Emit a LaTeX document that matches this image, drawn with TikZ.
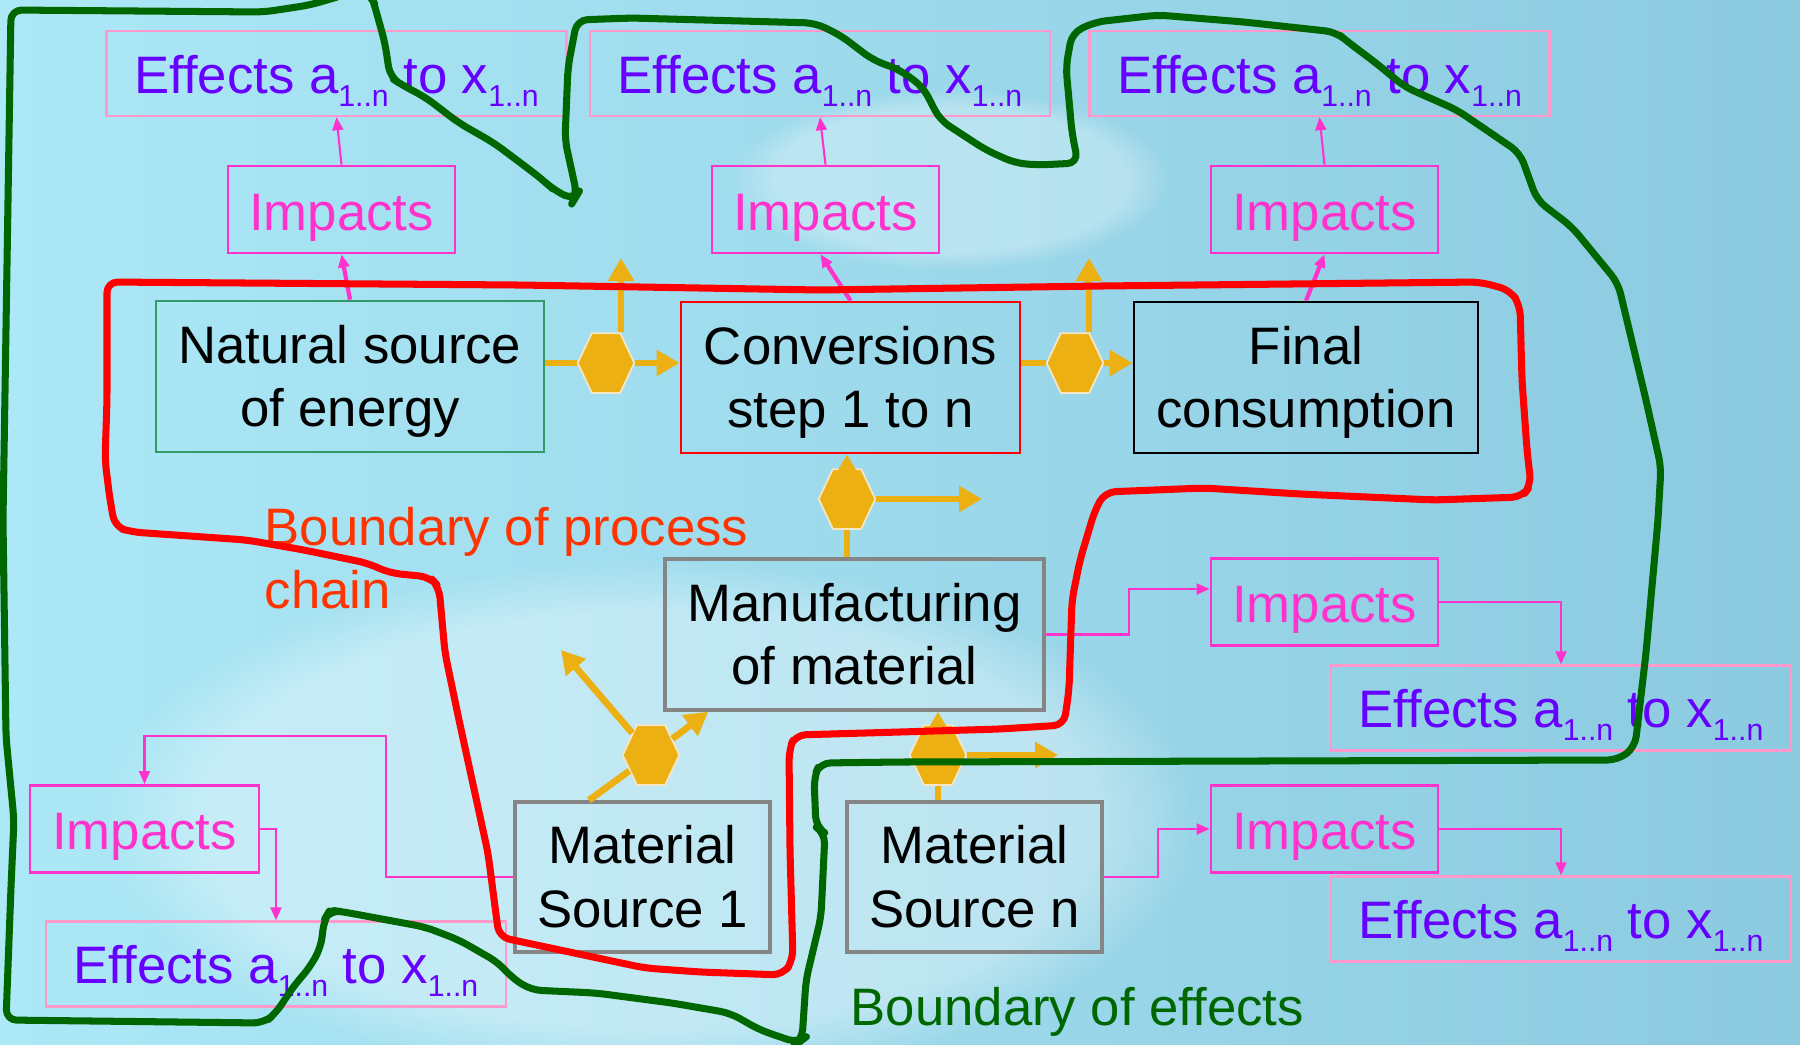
\documentclass[tikz,border=0pt]{standalone}
\usepackage{fontspec}
\setmainfont{Liberation Sans}
\usetikzlibrary{arrows.meta,shapes.geometric,fadings}

\definecolor{procred}{HTML}{FF0000}
\definecolor{effgreen}{HTML}{006600}
\definecolor{hexorange}{HTML}{ECB012}
\definecolor{hexrim}{HTML}{F6E6C6}
\definecolor{imppink}{HTML}{FF33CC}
\definecolor{effpink}{HTML}{FF99CC}
\definecolor{effviolet}{HTML}{6600FF}
\definecolor{natgreen}{HTML}{339966}
\definecolor{chainred}{HTML}{FF3300}
\definecolor{matgray}{HTML}{858585}
\definecolor{bgleft}{HTML}{ACE8F6}
\definecolor{bgright}{HTML}{8CCAE0}

\newcommand{\subn}{\raisebox{-0.25em}{\fontsize{8.6pt}{9pt}\selectfont 1..n}}
\newcommand{\Effects}{Effects a\subn{} to x\subn}
\newcommand{\bigfont}{\fontsize{15pt}{18pt}\selectfont}

\begin{document}
\begin{tikzpicture}[
    effbox/.style={rectangle, draw=effpink, line width=0.7pt, text=effviolet, minimum width=4.6cm, minimum height=0.85cm, inner sep=0pt, text height=0.39cm, text depth=0cm, font=\bigfont},
    impbox/.style={rectangle, draw=imppink, line width=0.8pt, text=imppink, minimum width=2.27cm, minimum height=0.87cm, inner sep=0pt, text height=0.41cm, text depth=0cm, font=\bigfont},
    procbox/.style={rectangle, draw, line width=0.8pt, align=center, minimum height=1.51cm, inner sep=0pt, text height=1.2cm, text depth=0.2cm, font=\bigfont},
    matbox/.style={procbox, draw=matgray, line width=1pt, minimum width=2.55cm, minimum height=1.5cm},
    hexa/.style={regular polygon, regular polygon sides=6, minimum size=0.69cm, inner sep=0pt, fill=hexorange, draw=hexrim, line width=0.5pt, xscale=0.82},
    orline/.style={draw=hexorange, line width=1.9pt},
    orarrow/.style={orline, -{Triangle[length=2.3mm,width=2.5mm]}},
    pinkarrow/.style={draw=imppink, line width=0.6pt, -{Triangle[length=1.3mm,width=1.1mm]}},
    pinkthick/.style={pinkarrow, line width=1.2pt},
    boundary/.style={line width=2pt, line join=round, line cap=round, rounded corners=3pt}
  ]

    \useasboundingbox (0,0) rectangle (18,-10.44);
    % background
    \shade[left color=bgleft, right color=bgright] (0,0) rectangle (18,-10.44);
    \fill[white, opacity=0.35, path fading=circle with fuzzy edge 20 percent] (6.5,-8.2) ellipse (5.5 and 2.6);
    \fill[white, opacity=0.3, path fading=circle with fuzzy edge 20 percent] (9.5,-1.8) ellipse (2.2 and 0.9);

    % effects, top row
    \node[effbox] (eff1) at (3.365,-0.735) {\Effects};
    \node[effbox] (eff2) at (8.20,-0.735) {\Effects};
    \node[effbox] (eff3) at (13.195,-0.735) {\Effects};

    \node[impbox] (imp1) at (3.415,-2.095) {Impacts};
    \node[impbox] (imp2) at (8.255,-2.095) {Impacts};
    \node[impbox] (imp3) at (13.245,-2.095) {Impacts};

    % process chain
    \node[procbox, draw=natgreen, minimum width=3.88cm] (nat) at (3.50,-3.765) {Natural source\\of energy};
    \node[procbox, draw=procred, minimum width=3.39cm] (conv) at (8.505,-3.775) {Conversions\\step 1 to n};
    \node[procbox, draw=black, minimum width=3.44cm] (fin) at (13.06,-3.775) {Final\\consumption};
    \node[matbox, minimum width=3.79cm, minimum height=1.51cm] (manu) at (8.545,-6.345) {Manufacturing\\of material};
    \node[matbox] (src1) at (6.425,-8.77) {Material\\Source 1};
    \node[matbox] (srcn) at (9.745,-8.77) {Material\\Source n};

    % effects of material
    \node[impbox] (imp4) at (13.245,-6.02) {Impacts};
    \node[effbox] (eff4) at (15.61,-7.08) {\Effects};
    \node[impbox] (imp5) at (13.245,-8.29) {Impacts};
    \node[effbox] (eff5) at (15.61,-9.19) {\Effects};
    \node[impbox, minimum width=2.29cm] (imp6) at (1.445,-8.29) {Impacts};
    \node[effbox] (eff6) at (2.76,-9.64) {\Effects};

    % hexagons
    \node[hexa] (hx1) at (6.06,-3.63) {};
    \node[hexa] (hx2) at (10.75,-3.63) {};
    \node[hexa] (hx3) at (8.47,-4.99) {};
    \node[hexa] (hx4) at (6.51,-7.55) {};
    \node[hexa] (hx5) at (9.38,-7.55) {};

    \coordinate (out1) at (6.21,-2.58);
    \coordinate (out2) at (10.89,-2.58);
    \coordinate (out3) at (9.82,-4.99);
    \coordinate (out4) at (5.61,-6.50);
    \coordinate (out5) at (10.58,-7.55);

    % orange flows
    \draw[orline] (nat.east |- hx1) -- (hx1);
    \draw[orarrow] (hx1) -- (conv.west |- hx1);
    \draw[orarrow] (hx1.north -| out1) -- (out1);
    \draw[orline] (conv.east |- hx2) -- (hx2);
    \draw[orarrow] (hx2) -- (fin.west |- hx2);
    \draw[orarrow] (hx2.north -| out2) -- (out2);
    \draw[orline] (hx3) -- (hx3 |- manu.north);
    \draw[orarrow] (hx3.center) -- (hx3 |- conv.south);
    \draw[orarrow] (hx3) -- (out3);
    \draw[orline] ([xshift=-0.535cm]src1.north) -- (hx4);
    \draw[orarrow] (hx4) -- ([xshift=0.45cm]manu.south west);
    \draw[orarrow] (hx4) -- (out4);
    \draw[orline] (srcn.north -| hx5) -- (hx5);
    \draw[orarrow] (hx5.center) -- (hx5 |- manu.south);
    \draw[orarrow] (hx5) -- (out5);

    % impacts and effects
    \draw[pinkthick] (nat.north) -- (imp1.south);
    \draw[pinkarrow] (imp1.north) -- (eff1.south);
    \draw[pinkthick] (conv.north) -- ([xshift=-0.05cm]imp2.south);
    \draw[pinkarrow] (imp2.north) -- (eff2.south);
    \draw[pinkthick] (fin.north) -- (imp3.south);
    \draw[pinkarrow] (imp3.north) -- (eff3.south);
    \draw[pinkarrow] (manu.east) -- ++(0.83,0) |- ([yshift=0.13cm]imp4.west);
    \draw[pinkarrow] (imp4.east) -| (eff4.north);
    \draw[pinkarrow] (srcn.east) -- ++(0.54,0) |- (imp5.west);
    \draw[pinkarrow] (imp5.east) -| (eff5.north);
    \draw[pinkarrow] (src1.west) -- ++(-1.27,0) |- ([yshift=0.48cm]imp6.north) -- (imp6.north);
    \draw[pinkarrow] (imp6.east) -| (eff6.north);

    % labels
    \node[anchor=north west, align=left, inner sep=0pt, text=chainred, font=\bigfont] (chainlbl) at (2.64,-5.065) {Boundary of process\\chain};
    \node[anchor=base west, inner sep=0pt, text=effgreen, font=\bigfont] (efflbl) at (8.50,-10.25) {Boundary of effects};

    % boundaries
    \begin{scope}
      \clip (0,0) rectangle (18,-10.44);
      \draw[boundary, procred] (1.07,-2.82) -- (5.20,-2.85) -- (8.20,-2.90) -- (11.00,-2.86) -- (14.80,-2.82) -- (15.10,-2.90) -- (15.20,-3.05) -- (15.22,-3.80) -- (15.27,-4.50) -- (15.31,-4.85) -- (15.22,-4.97) -- (14.34,-5.00) -- (13.00,-4.94) -- (12.04,-4.88) -- (11.05,-4.92) -- (10.95,-5.10) -- (10.80,-5.60) -- (10.72,-6.00) -- (10.69,-6.90) -- (10.64,-7.25) -- (10.00,-7.29) -- (9.00,-7.32) -- (7.95,-7.35) -- (7.89,-7.50) -- (7.90,-8.50) -- (7.93,-9.60) -- (7.83,-9.75) -- (7.00,-9.72) -- (6.45,-9.68) -- (5.60,-9.50) -- (4.99,-9.37) -- (4.88,-8.53) -- (4.59,-7.20) -- (4.45,-6.53) -- (4.39,-5.87) -- (4.30,-5.77) -- (3.90,-5.73) -- (3.67,-5.63) -- (3.04,-5.50) -- (2.47,-5.40) -- (1.32,-5.32) -- (1.15,-5.27) -- (1.10,-5.00) -- (1.05,-4.60) -- (1.07,-4.00) -- cycle;
      \draw[boundary, effgreen] (0.11,-0.10) -- (2.64,-0.12) -- (3.10,-0.05) -- (3.44,0.05) -- (3.58,0.12) -- (3.71,0.05) -- (3.73,0) -- (3.85,-0.43) -- (3.90,-0.77) -- (4.02,-0.85) -- (4.25,-0.97) -- (4.59,-1.23) -- (4.94,-1.43) -- (5.34,-1.73) -- (5.45,-1.82) -- (5.54,-1.90) -- (5.74,-2.00) -- (5.77,-1.95) -- (5.65,-1.40) -- (5.68,-0.67) -- (5.77,-0.20) -- (6.31,-0.18) -- (8.15,-0.23) -- (8.40,-0.35) -- (8.73,-0.60) -- (9.00,-0.70) -- (9.23,-0.87) -- (9.40,-1.20) -- (9.86,-1.50) -- (10.15,-1.63) -- (10.38,-1.65) -- (10.78,-1.63) -- (10.72,-1.33) -- (10.66,-0.67) -- (10.72,-0.33) -- (10.95,-0.22) -- (11.58,-0.15) -- (12.44,-0.22) -- (13.36,-0.32) -- (13.48,-0.42) -- (13.76,-0.63) -- (14.05,-0.87) -- (14.57,-1.10) -- (15.20,-1.53) -- (15.37,-2.00) -- (15.72,-2.27) -- (16.18,-2.83) -- (16.46,-4.00) -- (16.61,-4.67) -- (16.58,-5.20) -- (16.46,-6.53) -- (16.35,-7.47) -- (16.18,-7.60) -- (9.00,-7.62) -- (8.20,-7.63) -- (8.14,-7.77) -- (8.16,-8.27) -- (8.25,-8.33) -- (8.21,-9.17) -- (8.06,-9.80) -- (8.02,-10.40) -- (7.98,-10.43) -- (7.60,-10.30) -- (7.30,-10.13) -- (6.72,-10.03) -- (5.96,-9.93) -- (5.31,-9.90) -- (5.11,-9.77) -- (4.99,-9.63) -- (4.59,-9.40) -- (4.25,-9.27) -- (3.44,-9.12) -- (3.30,-9.10) -- (3.24,-9.20) -- (3.21,-9.47) -- (3.10,-9.67) -- (2.93,-9.87) -- (2.76,-10.13) -- (2.64,-10.23) -- (0.06,-10.20) -- (0.11,-8.87) -- (0.14,-8.20) -- (0.06,-7.37) -- (0.03,-5.20) -- cycle;
    \end{scope}

\end{tikzpicture}
\end{document}
